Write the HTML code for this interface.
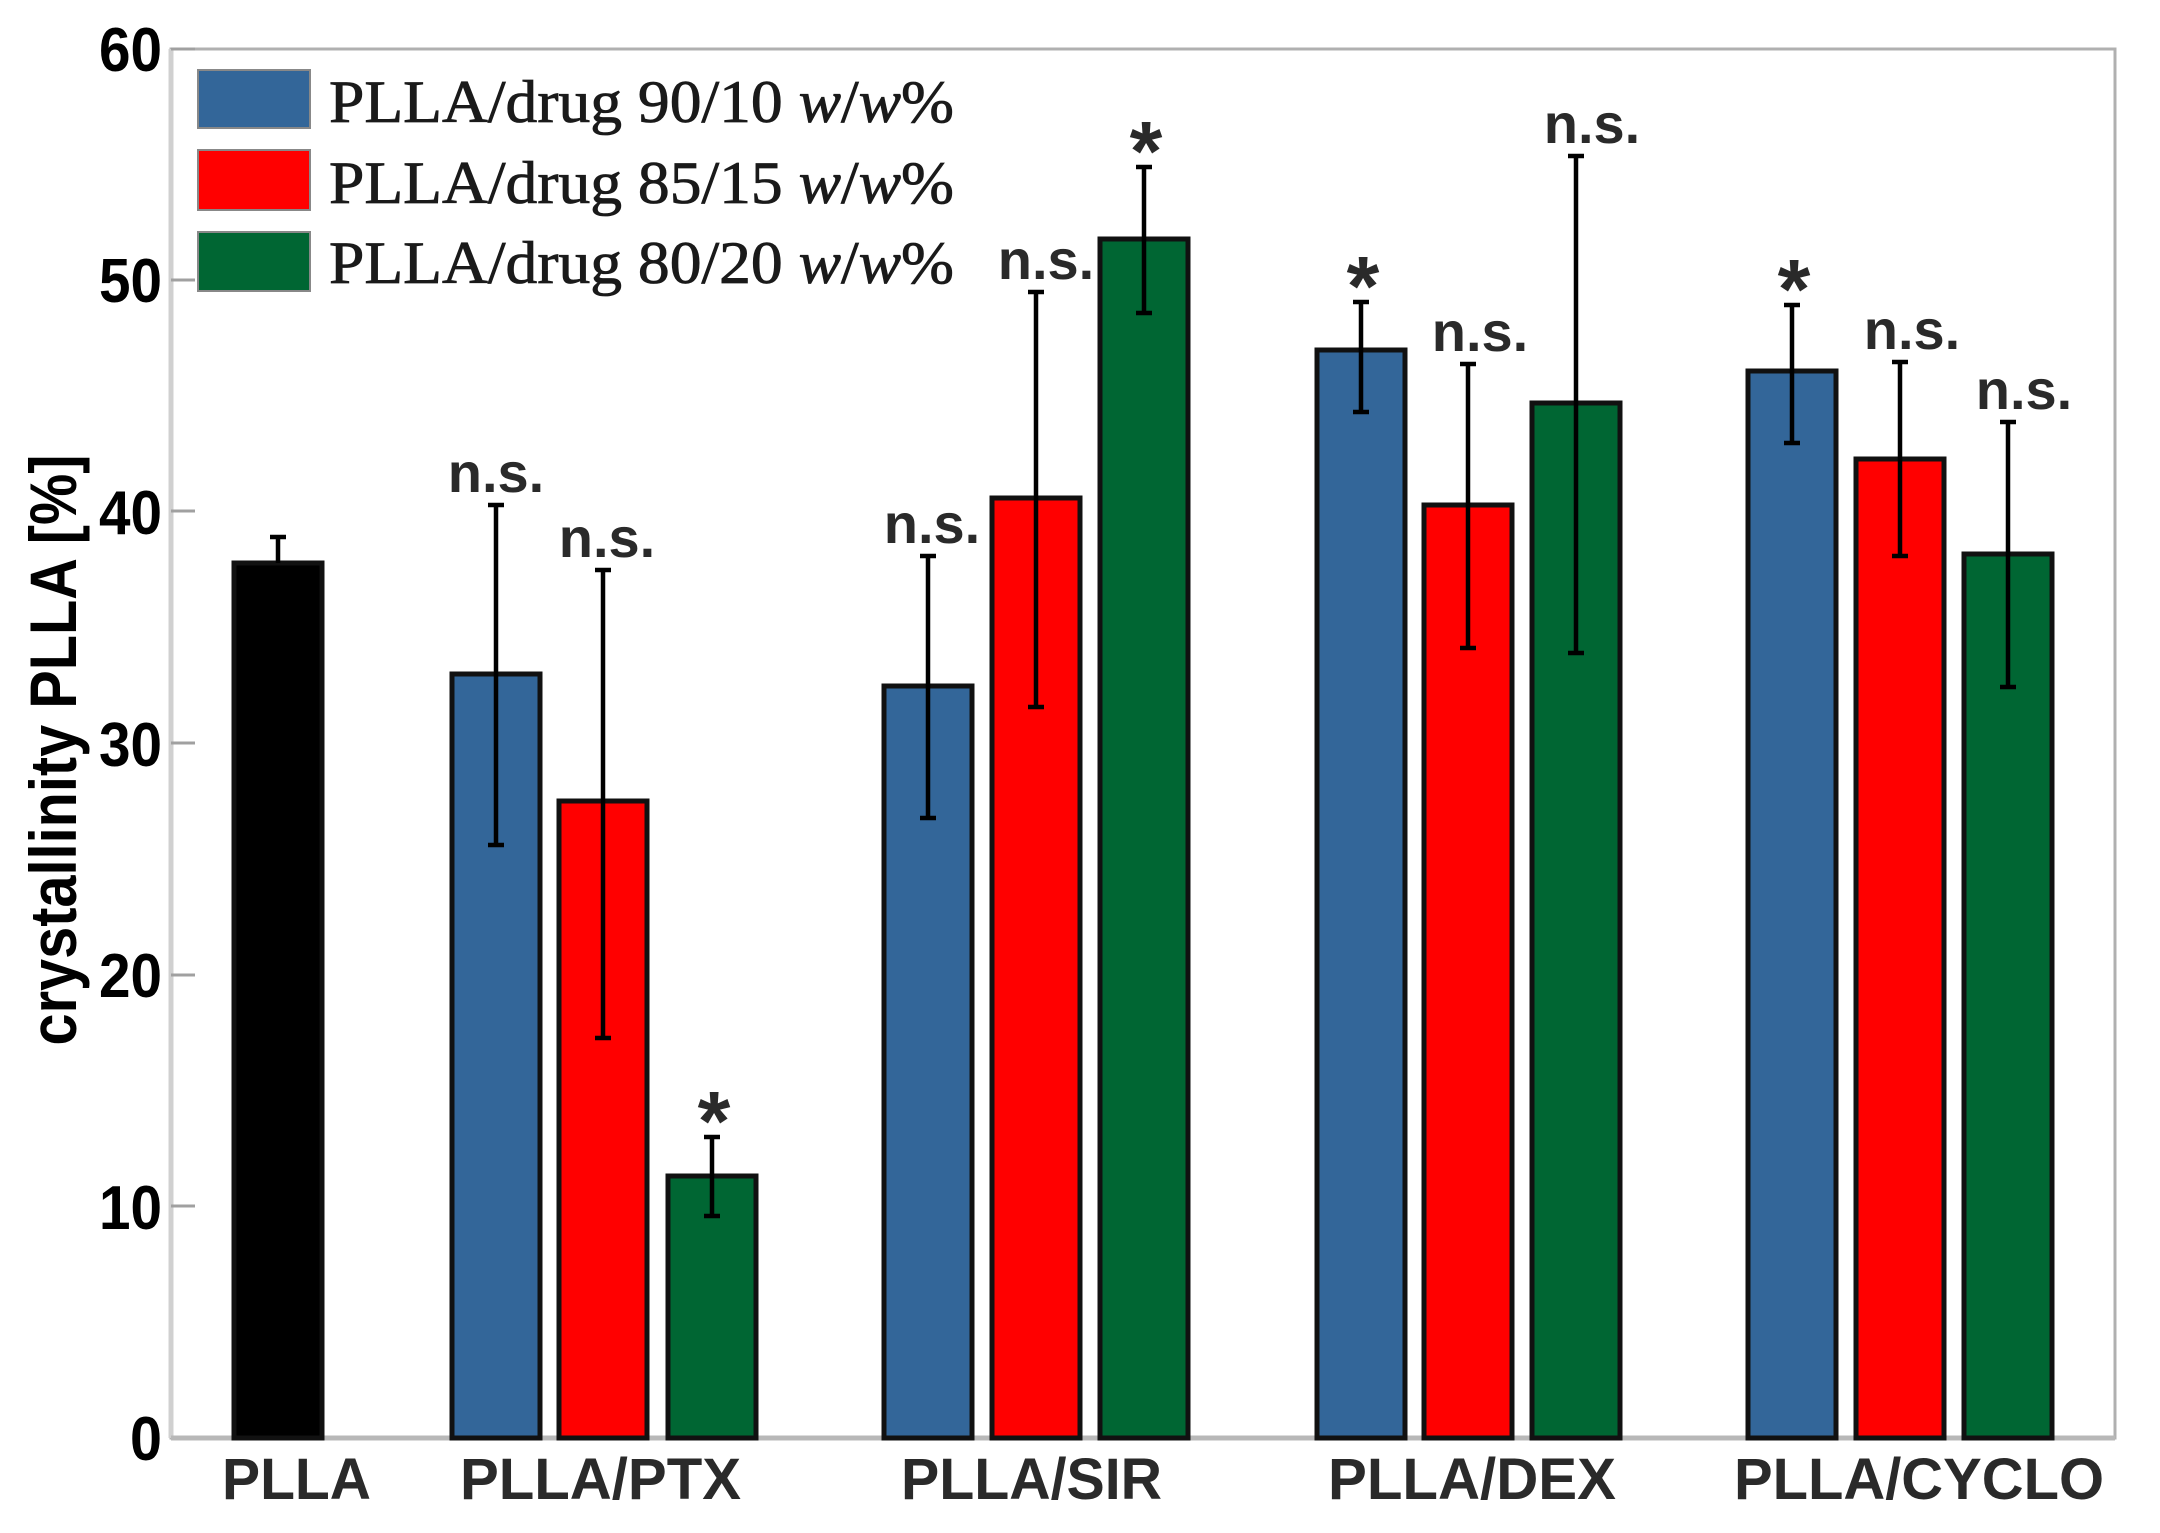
<!DOCTYPE html>
<html><head><meta charset="utf-8"><style>html,body{margin:0;padding:0;background:#fff}svg{display:block}</style></head>
<body>
<svg width="2160" height="1533" viewBox="0 0 2160 1533" xmlns="http://www.w3.org/2000/svg">
<rect width="2160" height="1533" fill="#fff"/>
<rect x="171" y="49" width="1944" height="1389" fill="none" stroke="#b0b0b0" stroke-width="3"/>
<line x1="171" y1="49" x2="171" y2="1438" stroke="#d0d0d0" stroke-width="5"/>
<line x1="171" y1="1438" x2="2115" y2="1438" stroke="#b8b8b8" stroke-width="5"/>
<g stroke="#a0a0a0" stroke-width="3">
<line x1="171" y1="1206" x2="195" y2="1206"/><line x1="171" y1="975" x2="195" y2="975"/>
<line x1="171" y1="743" x2="195" y2="743"/><line x1="171" y1="511" x2="195" y2="511"/>
<line x1="171" y1="280" x2="195" y2="280"/><line x1="171" y1="49" x2="195" y2="49"/>
</g>
<g font-family="Liberation Sans, Arial, sans-serif" font-weight="bold" font-size="62" fill="#000" text-anchor="end">
<text x="162" y="1460" textLength="32" lengthAdjust="spacingAndGlyphs">0</text>
<text x="162" y="1229" textLength="63" lengthAdjust="spacingAndGlyphs">10</text>
<text x="162" y="997" textLength="63" lengthAdjust="spacingAndGlyphs">20</text>
<text x="162" y="766" textLength="63" lengthAdjust="spacingAndGlyphs">30</text>
<text x="162" y="534" textLength="63" lengthAdjust="spacingAndGlyphs">40</text>
<text x="162" y="302" textLength="63" lengthAdjust="spacingAndGlyphs">50</text>
<text x="162" y="71" textLength="63" lengthAdjust="spacingAndGlyphs">60</text>
</g>
<text transform="translate(76,750) rotate(-90)" font-family="Liberation Sans, Arial, sans-serif" font-weight="bold" font-size="66" fill="#000" text-anchor="middle" textLength="591" lengthAdjust="spacingAndGlyphs">crystallinity PLLA [%]</text>
<g font-family="Liberation Sans, Arial, sans-serif" font-weight="bold" font-size="58" fill="#2a2a2a">
<text x="222" y="1499" textLength="149" lengthAdjust="spacingAndGlyphs">PLLA</text>
<text x="460" y="1499" textLength="281" lengthAdjust="spacingAndGlyphs">PLLA/PTX</text>
<text x="901" y="1499" textLength="261" lengthAdjust="spacingAndGlyphs">PLLA/SIR</text>
<text x="1328" y="1499" textLength="288" lengthAdjust="spacingAndGlyphs">PLLA/DEX</text>
<text x="1734" y="1499" textLength="370" lengthAdjust="spacingAndGlyphs">PLLA/CYCLO</text>
</g>
<g stroke="#111" stroke-width="5">
<rect x="234" y="563" width="88" height="875" fill="#000"/>
<rect x="452" y="674" width="88" height="764" fill="#336699"/>
<rect x="559" y="801" width="88" height="637" fill="#ff0000"/>
<rect x="668" y="1176" width="88" height="262" fill="#006633"/>
<rect x="884" y="686" width="88" height="752" fill="#336699"/>
<rect x="992" y="498" width="88" height="940" fill="#ff0000"/>
<rect x="1100" y="239" width="88" height="1199" fill="#006633"/>
<rect x="1317" y="350" width="88" height="1088" fill="#336699"/>
<rect x="1424" y="505" width="88" height="933" fill="#ff0000"/>
<rect x="1532" y="403" width="88" height="1035" fill="#006633"/>
<rect x="1748" y="371" width="88" height="1067" fill="#336699"/>
<rect x="1856" y="459" width="88" height="979" fill="#ff0000"/>
<rect x="1964" y="554" width="88" height="884" fill="#006633"/>
</g>
<g stroke="#000" stroke-width="4.5" fill="none">
<path d="M278 537V563M270 537h16"/>
<path d="M496 505V845M488 505h16M488 845h16"/>
<path d="M603 570V1038M595 570h16M595 1038h16"/>
<path d="M712 1137V1216M704 1137h16M704 1216h16"/>
<path d="M928 556V818M920 556h16M920 818h16"/>
<path d="M1036 292V707M1028 292h16M1028 707h16"/>
<path d="M1144 167V313M1136 167h16M1136 313h16"/>
<path d="M1361 302V412M1353 302h16M1353 412h16"/>
<path d="M1468 364V648M1460 364h16M1460 648h16"/>
<path d="M1576 156V653M1568 156h16M1568 653h16"/>
<path d="M1792 305V443M1784 305h16M1784 443h16"/>
<path d="M1900 362V556M1892 362h16M1892 556h16"/>
<path d="M2008 422V687M2000 422h16M2000 687h16"/>
</g>
<g font-family="Liberation Sans, Arial, sans-serif" font-weight="bold" font-size="56" fill="#2a2a2a" text-anchor="middle">
<text x="496" y="492">n.s.</text>
<text x="607" y="557">n.s.</text>
<text x="932" y="543">n.s.</text>
<text x="1046" y="279">n.s.</text>
<text x="1480" y="351">n.s.</text>
<text x="1592" y="143">n.s.</text>
<text x="1912" y="349">n.s.</text>
<text x="2024" y="409">n.s.</text>
</g>
<g font-family="Liberation Sans, Arial, sans-serif" font-weight="bold" font-size="84" fill="#2a2a2a" text-anchor="middle">
<text x="714" y="1150">*</text>
<text x="1146" y="180">*</text>
<text x="1363" y="315">*</text>
<text x="1794" y="318">*</text>
</g>
<g stroke="#888" stroke-width="2">
<rect x="198" y="70" width="112" height="58" fill="#336699"/>
<rect x="198" y="150" width="112" height="60" fill="#ff0000"/>
<rect x="198" y="232" width="112" height="59" fill="#006633"/>
</g>
<g font-family="Liberation Serif, 'Times New Roman', serif" font-size="60" fill="#1a1a1a" stroke="#1a1a1a" stroke-width="0.8">
<text x="329" y="122" textLength="625" lengthAdjust="spacingAndGlyphs">PLLA/drug 90/10 <tspan font-style="italic">w</tspan>/<tspan font-style="italic">w</tspan>%</text>
<text x="329" y="203" textLength="625" lengthAdjust="spacingAndGlyphs">PLLA/drug 85/15 <tspan font-style="italic">w</tspan>/<tspan font-style="italic">w</tspan>%</text>
<text x="329" y="283" textLength="625" lengthAdjust="spacingAndGlyphs">PLLA/drug 80/20 <tspan font-style="italic">w</tspan>/<tspan font-style="italic">w</tspan>%</text>
</g>
</svg>
</body></html>
